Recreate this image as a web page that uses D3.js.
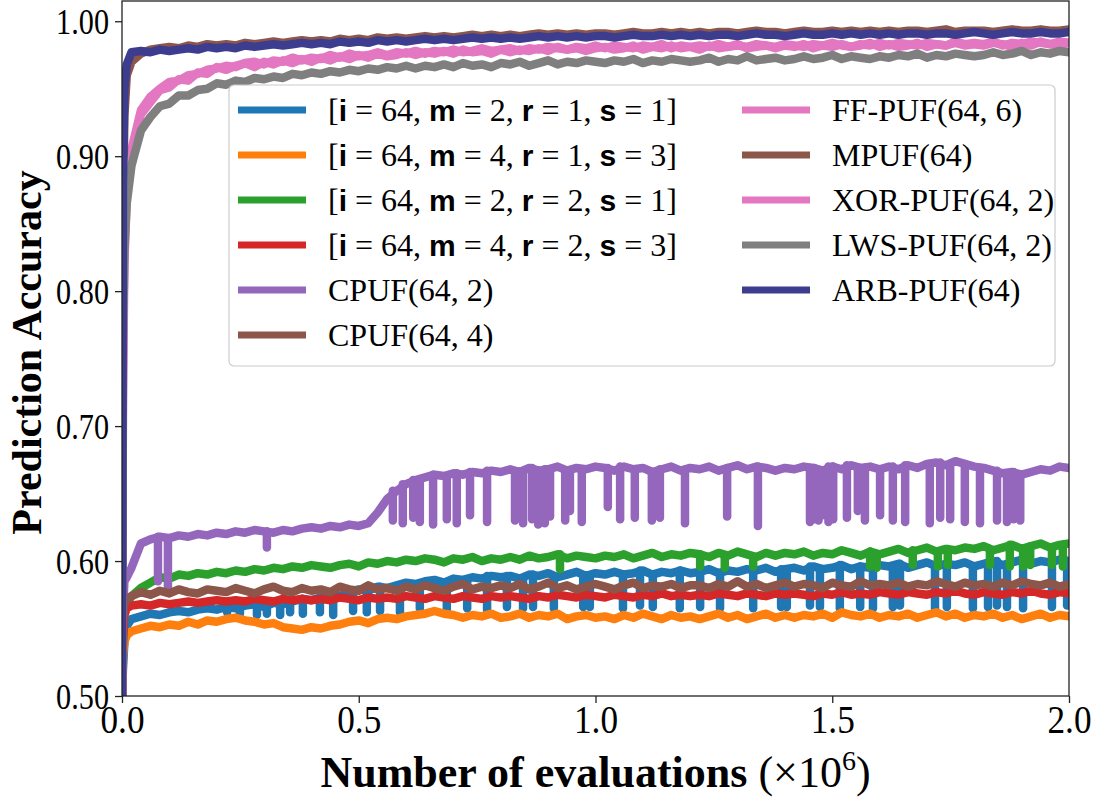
<!DOCTYPE html>
<html>
<head>
<meta charset="utf-8">
<script src="https://cdn.jsdelivr.net/npm/d3@7"></script>
<style>
  body { margin: 0; background: #fff; }
  svg { display: block; }
</style>
</head>
<body>
<div id="chart"></div>
<script>
// evaluations (x10^6), shared by every series
var evals = [0, 0.002, 0.005, 0.01,
  0.02, 0.04, 0.06, 0.08, 0.10, 0.12, 0.14, 0.16, 0.18, 0.20,
  0.22, 0.24, 0.26, 0.28, 0.30, 0.32, 0.34, 0.36, 0.38, 0.40,
  0.42, 0.44, 0.46, 0.48, 0.50, 0.52, 0.54, 0.56, 0.58, 0.60,
  0.62, 0.64, 0.66, 0.68, 0.70, 0.72, 0.74, 0.76, 0.78, 0.80,
  0.82, 0.84, 0.86, 0.88, 0.90, 0.92, 0.94, 0.96, 0.98, 1.00,
  1.02, 1.04, 1.06, 1.08, 1.10, 1.12, 1.14, 1.16, 1.18, 1.20,
  1.22, 1.24, 1.26, 1.28, 1.30, 1.32, 1.34, 1.36, 1.38, 1.40,
  1.42, 1.44, 1.46, 1.48, 1.50, 1.52, 1.54, 1.56, 1.58, 1.60,
  1.62, 1.64, 1.66, 1.68, 1.70, 1.72, 1.74, 1.76, 1.78, 1.80,
  1.82, 1.84, 1.86, 1.88, 1.90, 1.92, 1.94, 1.96, 1.98, 2.00]

// [i=64, m=2, r=1, s=1]
var acc1 = [0.50, 0.52, 0.54, 0.552,
  .557, .559, .561, .560, .562, .563, .562, .564, .565, .564,
  .566, .565, .567, .568, .566, .569, .568, .570, .572, .571,
  .573, .575, .574, .577, .579, .578, .581, .580, .582, .584,
  .583, .585, .586, .584, .587, .586, .588, .587, .589, .588,
  .589, .587, .590, .589, .591, .588, .590, .592, .589, .591,
  .590, .592, .590, .591, .593, .590, .592, .591, .593, .591,
  .592, .594, .591, .593, .592, .594, .593, .595, .592, .594,
  .595, .593, .596, .594, .595, .597, .594, .596, .595, .597,
  .596, .598, .595, .597, .599, .596, .598, .597, .599, .596,
  .598, .600, .597, .599, .601, .598, .600, .599, .601, .600]
var acc1Dips = [[0.222, .562], [0.249, .561], [0.285, .560], [0.306, .561], [0.334, .560], [0.355, .562],
  [0.382, .561], [0.418, .562], [0.446, .560], [0.488, .563], [0.517, .562], [0.545, .563], [0.587, .562],
  [0.629, .565], [0.686, .563], [0.729, .565], [0.771, .564], [0.813, .566], [0.847, .565], [0.868, .566],
  [0.912, .565], [0.974, .566], [0.988, .566], [1.058, .565], [1.094, .567], [1.121, .566], [1.178, .565],
  [1.221, .566], [1.263, .565], [1.333, .565], [1.392, .566], [1.404, .566], [1.453, .567], [1.474, .566],
  [1.516, .565], [1.559, .566], [1.586, .565], [1.628, .566], [1.643, .567], [1.717, .565], [1.742, .566],
  [1.797, .565], [1.829, .566], [1.848, .567], [1.869, .566], [1.903, .565], [1.964, .566], [1.996, .567]]

// [i=64, m=4, r=1, s=3]
var acc2 = [0.50, 0.53, 0.54, 0.545,
  .548, .550, .552, .551, .553, .552, .555, .553, .556, .555,
  .557, .558, .556, .555, .553, .554, .551, .550, .549, .551,
  .550, .552, .553, .555, .556, .554, .557, .558, .557, .559,
  .560, .561, .563, .561, .560, .558, .560, .559, .561, .558,
  .559, .561, .558, .560, .559, .561, .557, .559, .560, .558,
  .559, .557, .560, .558, .561, .559, .557, .560, .558, .559,
  .557, .559, .561, .558, .560, .557, .559, .561, .558, .560,
  .558, .560, .559, .561, .558, .562, .560, .559, .561, .558,
  .560, .559, .561, .558, .560, .562, .559, .561, .558, .560,
  .559, .561, .558, .560, .557, .559, .561, .558, .560, .559]

// [i=64, m=2, r=2, s=1]
var acc3 = [0.50, 0.54, 0.56, 0.568,
  .574, .580, .584, .588, .587, .590, .589, .591, .590, .592,
  .591, .593, .592, .594, .593, .595, .594, .596, .595, .597,
  .596, .595, .597, .598, .596, .599, .598, .600, .599, .601,
  .600, .602, .601, .599, .602, .601, .603, .600, .602, .601,
  .603, .601, .604, .602, .603, .605, .602, .604, .603, .602,
  .604, .603, .605, .602, .604, .606, .603, .605, .604, .606,
  .605, .603, .606, .604, .607, .605, .603, .606, .604, .606,
  .605, .607, .604, .606, .605, .608, .606, .604, .607, .605,
  .607, .609, .606, .608, .610, .607, .609, .608, .610, .609,
  .611, .608, .610, .612, .609, .611, .613, .610, .612, .613]
var acc3Dips = [[0.925, .594], [1.221, .596], [1.273, .595], [1.333, .596], [1.58, .596], [1.594, .595],
  [1.67, .597], [1.723, .596], [1.744, .597], [1.833, .597], [1.875, .596], [1.903, .596], [1.918, .597],
  [1.964, .597], [1.987, .596]]

// [i=64, m=4, r=2, s=3]
var acc4 = [0.50, 0.54, 0.56, 0.565,
  .567, .568, .567, .569, .568, .569, .570, .569, .570, .571,
  .570, .571, .570, .572, .571, .570, .572, .571, .572, .571,
  .572, .571, .573, .572, .571, .573, .572, .573, .572, .574,
  .573, .572, .574, .573, .572, .574, .573, .572, .574, .573,
  .574, .573, .572, .574, .573, .575, .574, .573, .575, .574,
  .573, .575, .574, .573, .575, .574, .576, .574, .575, .574,
  .575, .574, .576, .575, .574, .576, .575, .574, .576, .575,
  .576, .575, .574, .576, .575, .577, .575, .576, .575, .577,
  .576, .575, .577, .576, .575, .577, .576, .578, .576, .575,
  .577, .576, .575, .577, .576, .578, .576, .575, .577, .576]

// CPUF(64, 2)
var cpuf2 = [0.50, 0.56, 0.585, 0.588,
  .595, .613, .616, .618, .617, .619, .618, .620, .619, .621,
  .620, .622, .621, .623, .622, .621, .623, .622, .624, .625,
  .624, .626, .625, .627, .626, .628, .636, .646, .652, .657,
  .660, .662, .664, .663, .665, .664, .666, .665, .667, .666,
  .668, .666, .669, .667, .668, .670, .667, .669, .668, .670,
  .669, .667, .670, .668, .669, .666, .668, .670, .667, .669,
  .668, .670, .667, .669, .671, .668, .670, .669, .667, .669,
  .668, .670, .669, .667, .670, .668, .671, .669, .670, .668,
  .670, .668, .671, .669, .672, .673, .671, .674, .672, .670,
  .669, .667, .665, .666, .664, .666, .668, .667, .670, .669]
var cpuf2Dips = [[0.076, .585], [0.097, .578], [0.306, .610],
  [0.572, .630], [0.593, .628], [0.615, .632], [0.629, .629], [0.657, .627], [0.686, .631], [0.707, .628],
  [0.735, .634], [0.771, .629], [0.830, .630], [0.847, .628], [0.866, .631], [0.879, .627], [0.886, .629],
  [0.893, .628], [0.904, .633], [0.936, .630], [0.946, .637], [0.971, .629], [1.026, .640], [1.052, .631],
  [1.083, .632], [1.119, .630], [1.136, .632], [1.189, .628], [1.278, .633], [1.343, .626], [1.453, .629],
  [1.462, .631], [1.471, .630], [1.480, .634], [1.492, .629], [1.502, .631], [1.531, .632], [1.554, .637],
  [1.569, .630], [1.601, .634], [1.628, .630], [1.654, .629], [1.706, .628], [1.728, .632], [1.749, .631],
  [1.780, .629], [1.812, .628], [1.848, .630], [1.869, .629], [1.883, .631], [1.897, .630]]

// CPUF(64, 4)
var cpuf4 = [0.50, 0.56, 0.568, 0.572,
  .574, .577, .575, .578, .576, .579, .577, .576, .579, .578,
  .577, .580, .578, .576, .579, .581, .578, .577, .580, .578,
  .579, .577, .581, .579, .578, .582, .579, .580, .578, .581,
  .579, .582, .580, .578, .581, .583, .579, .581, .580, .582,
  .580, .583, .579, .581, .584, .580, .582, .579, .581, .583,
  .581, .579, .582, .584, .580, .582, .581, .583, .580, .582,
  .582, .580, .583, .581, .585, .581, .583, .580, .582, .584,
  .581, .583, .582, .580, .584, .582, .581, .585, .582, .583,
  .582, .584, .581, .583, .582, .585, .583, .581, .584, .582,
  .583, .581, .584, .582, .585, .583, .582, .584, .581, .583]

// FF-PUF(64, 6)
var ffpuf = [0.50, 0.74, 0.84, 0.875,
  .905, .934, .944, .950, .955, .956, .960, .961, .964, .965,
  .967, .966, .969, .970, .968, .971, .970, .973, .971, .973,
  .972, .975, .973, .976, .974, .975, .977, .975, .977, .976,
  .978, .976, .978, .977, .979, .977, .978, .980, .978, .979,
  .980, .978, .980, .979, .981, .980, .979, .981, .980, .982,
  .980, .982, .981, .980, .982, .981, .983, .980, .982, .981,
  .982, .981, .983, .981, .982, .981, .983, .982, .981, .983,
  .982, .981, .983, .982, .984, .982, .981, .983, .982, .984,
  .982, .984, .983, .982, .984, .983, .982, .985, .983, .984,
  .983, .985, .982, .984, .983, .985, .984, .983, .985, .984]

// MPUF(64)
var mpuf = [0.50, 0.85, 0.93, 0.960,
  .970, .976, .979, .980, .981, .980, .982, .981, .983, .982,
  .983, .982, .984, .983, .984, .985, .984, .985, .986, .985,
  .986, .985, .987, .986, .987, .986, .988, .987, .988, .987,
  .988, .989, .988, .989, .988, .989, .990, .989, .990, .989,
  .990, .989, .990, .991, .990, .991, .990, .991, .990, .991,
  .991, .990, .991, .992, .991, .991, .992, .991, .992, .991,
  .992, .991, .992, .992, .991, .992, .993, .992, .992, .991,
  .992, .993, .992, .992, .993, .992, .993, .992, .993, .992,
  .993, .992, .993, .993, .992, .993, .994, .992, .993, .993,
  .993, .992, .993, .994, .993, .993, .994, .993, .993, .994]

// XOR-PUF(64, 2)
var xorpuf = [0.50, 0.72, 0.82, 0.87,
  .898, .931, .940, .949, .951, .957, .956, .962, .961, .966,
  .964, .967, .969, .966, .970, .968, .971, .969, .972, .970,
  .973, .971, .974, .972, .975, .973, .976, .974, .975, .977,
  .975, .977, .976, .978, .976, .979, .977, .978, .976, .979,
  .977, .979, .978, .980, .978, .981, .979, .980, .978, .980,
  .981, .979, .980, .982, .979, .981, .980, .982, .980, .981,
  .979, .982, .980, .981, .983, .980, .981, .982, .980, .982,
  .981, .983, .980, .982, .981, .983, .981, .982, .984, .981,
  .983, .981, .982, .984, .981, .983, .982, .984, .982, .983,
  .982, .984, .983, .981, .984, .982, .985, .983, .982, .984]

// LWS-PUF(64, 2)
var lwspuf = [0.50, 0.76, 0.83, 0.865,
  .893, .919, .929, .937, .939, .945, .945, .949, .950, .954,
  .953, .956, .955, .958, .957, .959, .958, .961, .960, .962,
  .961, .963, .962, .964, .963, .965, .964, .966, .965, .967,
  .965, .967, .966, .968, .966, .969, .967, .968, .966, .969,
  .968, .970, .967, .969, .971, .968, .970, .969, .971, .970,
  .969, .971, .970, .972, .969, .971, .970, .972, .971, .970,
  .971, .973, .970, .972, .971, .974, .971, .972, .973, .971,
  .972, .974, .972, .973, .975, .972, .974, .973, .972, .974,
  .973, .975, .974, .976, .973, .975, .974, .976, .975, .974,
  .975, .977, .975, .976, .978, .975, .977, .976, .978, .977]

// ARB-PUF(64)
var arbpuf = [0.50, 0.88, 0.95, 0.968,
  .977, .978, .977, .979, .978, .979, .980, .979, .981, .980,
  .981, .980, .982, .981, .982, .983, .982, .983, .984, .983,
  .984, .983, .985, .984, .985, .984, .986, .985, .986, .985,
  .986, .987, .986, .987, .986, .987, .988, .987, .988, .987,
  .988, .987, .988, .989, .988, .989, .988, .989, .988, .989,
  .989, .988, .989, .990, .989, .989, .990, .989, .990, .989,
  .990, .989, .990, .990, .989, .990, .991, .990, .990, .989,
  .990, .991, .990, .990, .991, .990, .991, .990, .991, .990,
  .991, .990, .991, .991, .990, .991, .991, .990, .991, .992,
  .991, .990, .991, .992, .991, .991, .992, .991, .991, .992]

var labels = ["[**i** = 64, **m** = 2, **r** = 1, **s** = 1]",
  "[**i** = 64, **m** = 4, **r** = 1, **s** = 3]",
  "[**i** = 64, **m** = 2, **r** = 2, **s** = 1]",
  "[**i** = 64, **m** = 4, **r** = 2, **s** = 3]",
  "CPUF(64, 2)", "CPUF(64, 4)", "FF-PUF(64, 6)", "MPUF(64)",
  "XOR-PUF(64, 2)", "LWS-PUF(64, 2)", "ARB-PUF(64)"]
var colors = ["#1f77b4", "#ff7f0e", "#2ca02c", "#d62728", "#9467bd", "#8c564b",
  "#e377c2", "#8c564b", "#e377c2", "#7f7f7f", "#3d3d8f"]
var seriesValues = [acc1, acc2, acc3, acc4, cpuf2, cpuf4, ffpuf, mpuf, xorpuf, lwspuf, arbpuf]
var seriesDips = [acc1Dips, [], acc3Dips, [], cpuf2Dips, [], [], [], [], [], []]

var xTicks = [0, 0.5, 1.0, 1.5, 2.0]
var yTicks = [0.50, 0.60, 0.70, 0.80, 0.90, 1.00]

var serif = "'Liberation Serif', 'DejaVu Serif', serif"
var lineW = 8.5

var svg = d3.select("#chart").append("svg").attr("width", 1101).attr("height", 797)
var margin = {top: 1, right: 32, bottom: 101, left: 122},
    width = 1101 - margin.left - margin.right,
    height = 797 - margin.top - margin.bottom;

var g = svg.append("g").attr("transform", "translate(" + margin.left + "," + margin.top + ")")

var x = d3.scaleLinear().domain([0, 2]).range([0, width])
var y = d3.scaleLinear().domain([0.5, 1.015]).range([height, 0])

g.append("clipPath").attr("id", "clip")
  .append("rect").attr("width", width).attr("height", height)

var line = d3.line()
  .x(function (d) { return x(d[0]); })
  .y(function (d) { return y(d[1]); })
var nearest = d3.bisector(function (d) { return d; }).center

var lines = g.append("g").attr("clip-path", "url(#clip)")
seriesValues.forEach(function (vals, k) {
  var pts = evals.map(function (e, i) { return [e, vals[i]]; })
  lines.append("path")
    .datum(pts)
    .attr("d", line)
    .attr("fill", "none")
    .attr("stroke", colors[k])
    .attr("stroke-width", lineW)
    .attr("stroke-linejoin", "round")
    .attr("stroke-linecap", "round")
  // sharp single-sample drops drawn as narrow spikes
  seriesDips[k].forEach(function (dp) {
    var i = nearest(evals, dp[0])
    lines.append("path")
      .datum([[dp[0], vals[i]], [dp[0], dp[1]]])
      .attr("d", line)
      .attr("fill", "none")
      .attr("stroke", colors[k])
      .attr("stroke-width", lineW)
      .attr("stroke-linecap", "round")
  })
})

// axes
var yAxis = d3.axisLeft(y).tickValues(yTicks).tickSize(7).tickFormat(d3.format(".2f"))
var xAxis = d3.axisBottom(x).tickValues(xTicks).tickSize(7).tickFormat(d3.format(".1f"))

var ya = g.append("g").call(yAxis)
var xa = g.append("g").attr("transform", "translate(0," + height + ")").call(xAxis)
;[ya, xa].forEach(function (a) {
  a.select(".domain").remove()
  a.selectAll(".tick line").attr("stroke", "#222").attr("stroke-width", 1.3)
})
ya.selectAll(".tick text")
  .attr("font-family", serif).attr("font-size", 36).attr("fill", "#000")
  .attr("transform", "scale(0.84,1)").attr("x", -13 / 0.84).attr("dy", "0.34em")
xa.selectAll(".tick text")
  .attr("font-family", serif).attr("font-size", 40).attr("fill", "#000")
  .attr("transform", "scale(0.88,1)").attr("y", 9).attr("dy", "0.71em")

g.append("rect").attr("width", width).attr("height", height)
  .attr("fill", "none").attr("stroke", "#222").attr("stroke-width", 1.3)

// axis labels
svg.append("text")
  .attr("transform", "translate(41," + (margin.top + height / 2 + 4) + ") rotate(-90)")
  .attr("text-anchor", "middle")
  .attr("font-family", serif).attr("font-weight", "bold").attr("font-size", 42)
  .text("Prediction Accuracy")

var xl = svg.append("text")
  .attr("x", margin.left + width / 2).attr("y", 787)
  .attr("text-anchor", "middle")
  .attr("font-family", serif).attr("font-size", 44)
xl.append("tspan").attr("font-weight", "bold").text("Number of evaluations ")
xl.append("tspan").text("(\u00d710")
xl.append("tspan").attr("font-size", 28).attr("dy", -17).text("6")
xl.append("tspan").attr("dy", 17).text(")")

// legend
var lg = {x: 229, y: 85, w: 826, h: 281, row: 45, first: 25, col: 504, handle: 68}
var leg = svg.append("g").attr("transform", "translate(" + lg.x + "," + lg.y + ")")
leg.append("rect").attr("width", lg.w).attr("height", lg.h).attr("rx", 5)
  .attr("fill", "#fff").attr("fill-opacity", 0.85)
  .attr("stroke", "#cccccc").attr("stroke-width", 1.2)

labels.forEach(function (lab, k) {
  var c = k < 6 ? 0 : 1, r = k < 6 ? k : k - 6
  var row = leg.append("g").attr("transform", "translate(" + (9 + c * lg.col) + "," + (lg.first + r * lg.row) + ")")
  row.append("line").attr("x1", 0).attr("x2", lg.handle)
    .attr("stroke", colors[k]).attr("stroke-width", 7)
  var t = row.append("text").attr("x", 90).attr("y", 11)
    .attr("font-family", serif).attr("font-size", 32).attr("fill", "#000")
  lab.split("**").forEach(function (part, j) {
    if (j % 2 == 1) {
      t.append("tspan").attr("font-family", "'Liberation Sans', 'DejaVu Sans', sans-serif")
        .attr("font-weight", "bold").attr("font-size", 30).text(part)
    } else {
      t.append("tspan").text(part)
    }
  })
})
</script>
</body>
</html>
